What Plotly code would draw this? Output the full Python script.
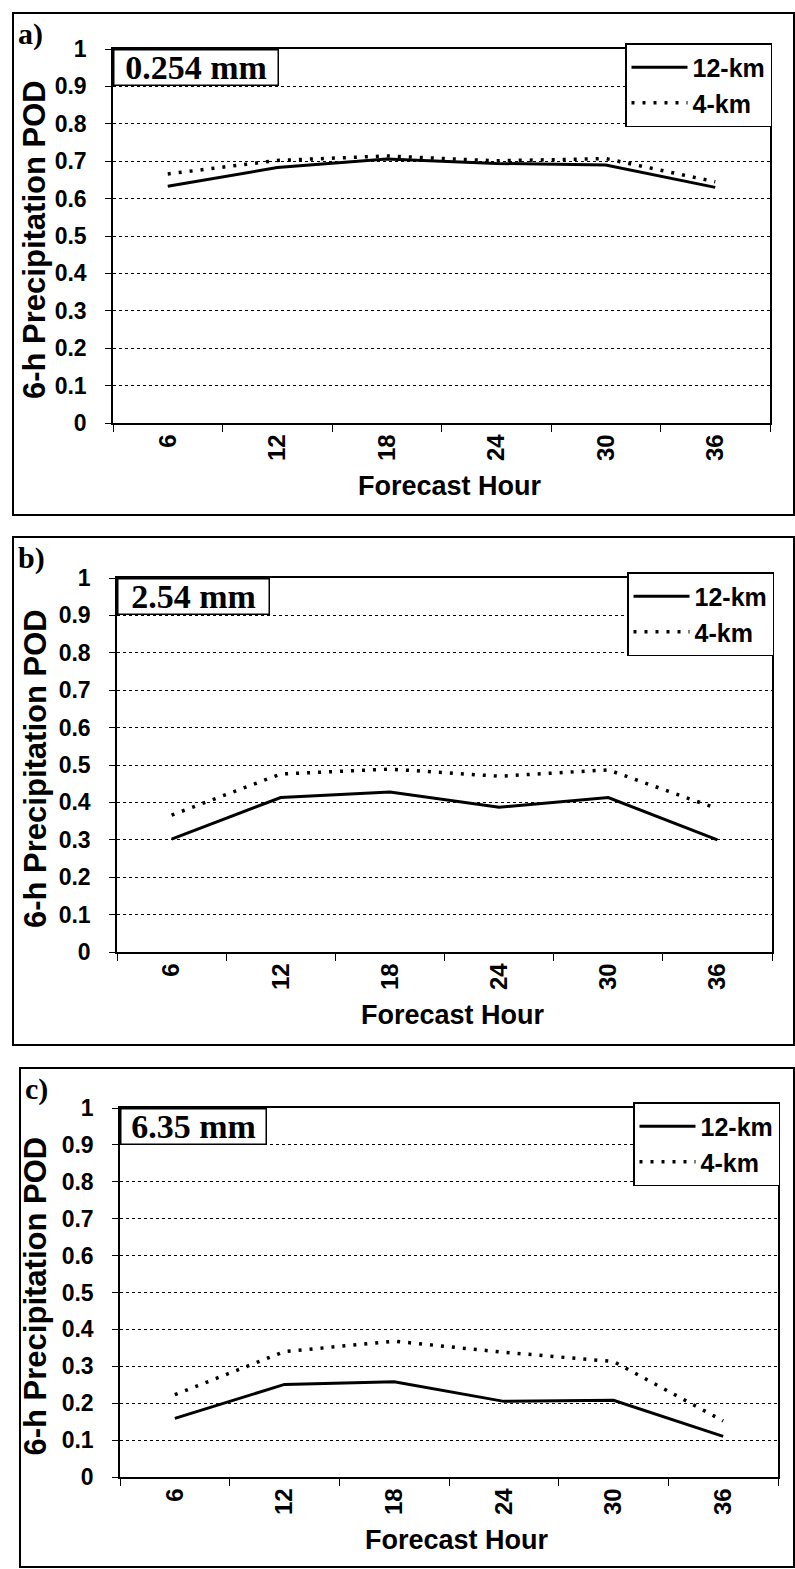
import plotly.graph_objects as go
from plotly.subplots import make_subplots

# Forecast hours (category axis) and the three precipitation thresholds
HOURS = ["6", "12", "18", "24", "30", "36"]
THRESHOLDS = ["0.254 mm", "2.54 mm", "6.35 mm"]
PANEL_TAGS = ["a)", "b)", "c)"]
SERIES_NAMES = ["12-km", "4-km"]
Y_TICKS = [0, 0.1, 0.2, 0.3, 0.4, 0.5, 0.6, 0.7, 0.8, 0.9, 1]
Y_TICK_LABELS = ["0", "0.1", "0.2", "0.3", "0.4", "0.5", "0.6", "0.7", "0.8", "0.9", "1"]

# 6-h precipitation POD
POD_12KM_A = [0.633, 0.683, 0.706, 0.694, 0.690, 0.630]
POD_4KM_A = [0.666, 0.702, 0.714, 0.701, 0.707, 0.645]
POD_12KM_B = [0.302, 0.413, 0.428, 0.387, 0.413, 0.300]
POD_4KM_B = [0.366, 0.476, 0.489, 0.470, 0.487, 0.383]
POD_12KM_C = [0.159, 0.251, 0.258, 0.205, 0.208, 0.110]
POD_4KM_C = [0.223, 0.340, 0.368, 0.338, 0.313, 0.152]

W, H = 795, 1569


def fx(px):
    return px / W


def fy(py):
    return 1 - py / H


SANS = "Liberation Sans, Arial, sans-serif"
SERIF = "Liberation Serif, Times New Roman, serif"

# plot-area pixel boxes: (left, right, top, bottom), outer frames, label box widths
PLOT_BOXES = [(113, 770, 49, 423), (117, 772, 578, 952), (120, 778, 1108, 1477)]
FRAMES = [(13, 794, 13, 515), (13, 794, 537, 1045), (20, 794, 1068, 1567)]
LABEL_WIDTHS = [163, 150, 144]

fig = make_subplots(rows=3, cols=1)

series = [
    (POD_12KM_A, POD_4KM_A),
    (POD_12KM_B, POD_4KM_B),
    (POD_12KM_C, POD_4KM_C),
]

for i, (s12, s4) in enumerate(series):
    row = i + 1
    leg = "legend" if i == 0 else f"legend{i + 1}"
    fig.add_trace(
        go.Scatter(
            x=HOURS, y=s12, mode="lines", name=SERIES_NAMES[0],
            line=dict(color="black", width=3), legend=leg,
        ),
        row=row, col=1,
    )
    fig.add_trace(
        go.Scatter(
            x=HOURS, y=s4, mode="lines", name=SERIES_NAMES[1],
            line=dict(color="black", width=3.5, dash="3px,8px"), legend=leg,
        ),
        row=row, col=1,
    )

layout = dict(
    width=W, height=H,
    margin=dict(l=0, r=0, t=0, b=0, autoexpand=False),
    paper_bgcolor="white", plot_bgcolor="white", showlegend=True,
)

annotations = []
shapes = []
for i, (l, r, t, b) in enumerate(PLOT_BOXES):
    xa = "xaxis" if i == 0 else f"xaxis{i + 1}"
    ya = "yaxis" if i == 0 else f"yaxis{i + 1}"
    layout[xa] = dict(
        domain=[fx(l), fx(r)], type="category", range=[-0.5, 5.5],
        tickson="boundaries", ticks="outside", ticklen=7, tickcolor="black",
        showline=True, linecolor="black", linewidth=1.5, mirror=True,
        showgrid=False, tickangle=-90, automargin=False,
        tickfont=dict(family=SANS, size=24, color="black", weight="bold"),
    )
    layout[ya] = dict(
        domain=[fy(b), fy(t)], range=[0, 1],
        tickvals=Y_TICKS, ticktext=Y_TICK_LABELS,
        ticks="outside", ticklen=6, tickcolor="black",
        showline=True, linecolor="black", linewidth=1.5, mirror=True,
        showgrid=True, gridcolor="black", gridwidth=1, griddash="dot",
        zeroline=False, ticklabelstandoff=14, automargin=False,
        tickfont=dict(family=SANS, size=23, color="black", weight="bold"),
    )
    leg = "legend" if i == 0 else f"legend{i + 1}"
    layout[leg] = dict(
        x=fx(r + 2), y=fy(t - 6), xanchor="right", yanchor="top",
        bgcolor="white", bordercolor="black", borderwidth=1.5,
        font=dict(family=SANS, size=25, color="black", weight="bold"),
        tracegroupgap=0, itemwidth=56,
    )
    # threshold label box
    annotations.append(dict(
        x=fx(l), y=fy(t), xref="paper", yref="paper",
        xanchor="left", yanchor="top", showarrow=False,
        text=THRESHOLDS[i], bgcolor="white", bordercolor="black",
        borderwidth=1.5, borderpad=0, width=LABEL_WIDTHS[i], height=34,
        font=dict(family=SERIF, size=34, color="black", weight="bold"),
    ))
    # panel tag
    fl, fr, ft, fb = FRAMES[i]
    annotations.append(dict(
        x=fx(fl + 3), y=fy(ft + 2), xref="paper", yref="paper",
        xanchor="left", yanchor="top", showarrow=False, text=PANEL_TAGS[i],
        font=dict(family=SERIF, size=30, color="black", weight="bold"),
    ))
    # axis titles
    annotations.append(dict(
        x=fx(35), y=fy((t + b) / 2 + 4), xref="paper", yref="paper",
        xanchor="center", yanchor="middle",
        showarrow=False, textangle=-90, text="6-h Precipitation POD",
        font=dict(family=SANS, size=31, color="black", weight="bold"),
    ))
    annotations.append(dict(
        x=fx((l + r) / 2 + 8), y=fy(b + 63), xref="paper", yref="paper",
        xanchor="center", yanchor="middle",
        showarrow=False, text="Forecast Hour",
        font=dict(family=SANS, size=27, color="black", weight="bold"),
    ))
    shapes.append(dict(
        type="rect", xref="paper", yref="paper",
        x0=fx(fl), x1=fx(fr), y0=fy(fb), y1=fy(ft),
        line=dict(color="black", width=2),
    ))

layout["annotations"] = annotations
layout["shapes"] = shapes
fig.update_layout(**layout)

# drop the browser's default 8px body margin so the figure fills the window
fig.write_html(
    "out.html",
    config={"displayModeBar": False},
    post_script="document.body.style.margin = '0';",
)
